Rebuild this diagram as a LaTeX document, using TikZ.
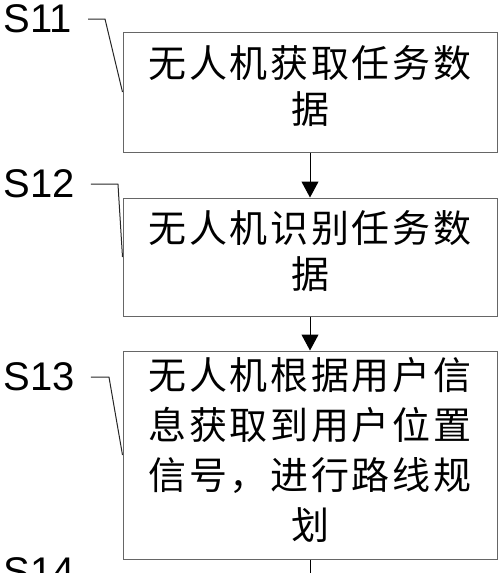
\documentclass[tikz,border=0pt]{standalone}
\usepackage{fontspec}
\newfontfamily\cjk[LetterSpace=7]{Noto Sans CJK SC}
\newfontfamily\labelfont{Liberation Sans}
\usepackage{tikz}
\usetikzlibrary{
	arrows.meta,
	calc,
	positioning,
}
\tikzset{stepbox/.style={
	draw,
	rectangle,
	inner sep=0mm,
	minimum width=187pt,
	align=center,
	black!60,
	text=black,
	line width=0.5pt,
	font=\cjk\fontsize{19pt}{23pt}\selectfont,
	execute at end node={\rule[-7pt]{0pt}{0pt}},
}, steplabel/.style={
	anchor=west,
	inner sep=0mm,
	font=\labelfont\fontsize{20pt}{24pt}\selectfont,
}}

\begin{document}
\begin{tikzpicture}[x=0.5pt,y=-0.5pt]
\useasboundingbox (0,0) rectangle (500,573);

\node[stepbox, minimum height=60pt] (box1) at (310,92) {无人机获取任务数\\据};
\node[stepbox, minimum height=59pt] (box2) at (310,257) {无人机识别任务数\\据};
\node[stepbox, minimum height=104pt, font=\cjk\fontsize{19pt}{25pt}\selectfont] (box3) at (310,455)
	{无人机根据用户信\\息获取到用户位置\\信号，进行路线规\\划};

\foreach \n/\y in {
	11/19
	,12/184
	,13/377
	,14/572
}{
	\node[steplabel](s\n) at(3,\y) {S\n};
}

\foreach \s/\b/\l in {
	s11/box1/17%
	,s12/box2/27%
	,s13/box3/18%
}{
	\draw[line width=0.5pt, black!85] ([xshift=8pt]\s.east) -- ++(\l,0) -- (\b.west);
}

\foreach \u/\v in {box1/box2,box2/box3}{
	\draw[line width=0.5pt, -{Triangle[width=8.5pt,length=8pt]}] (\u) -- (\v);
}
\coordinate (next) at (310,600);
\draw[line width=0.5pt] (box3) -- (next);

\end{tikzpicture}
\end{document}
